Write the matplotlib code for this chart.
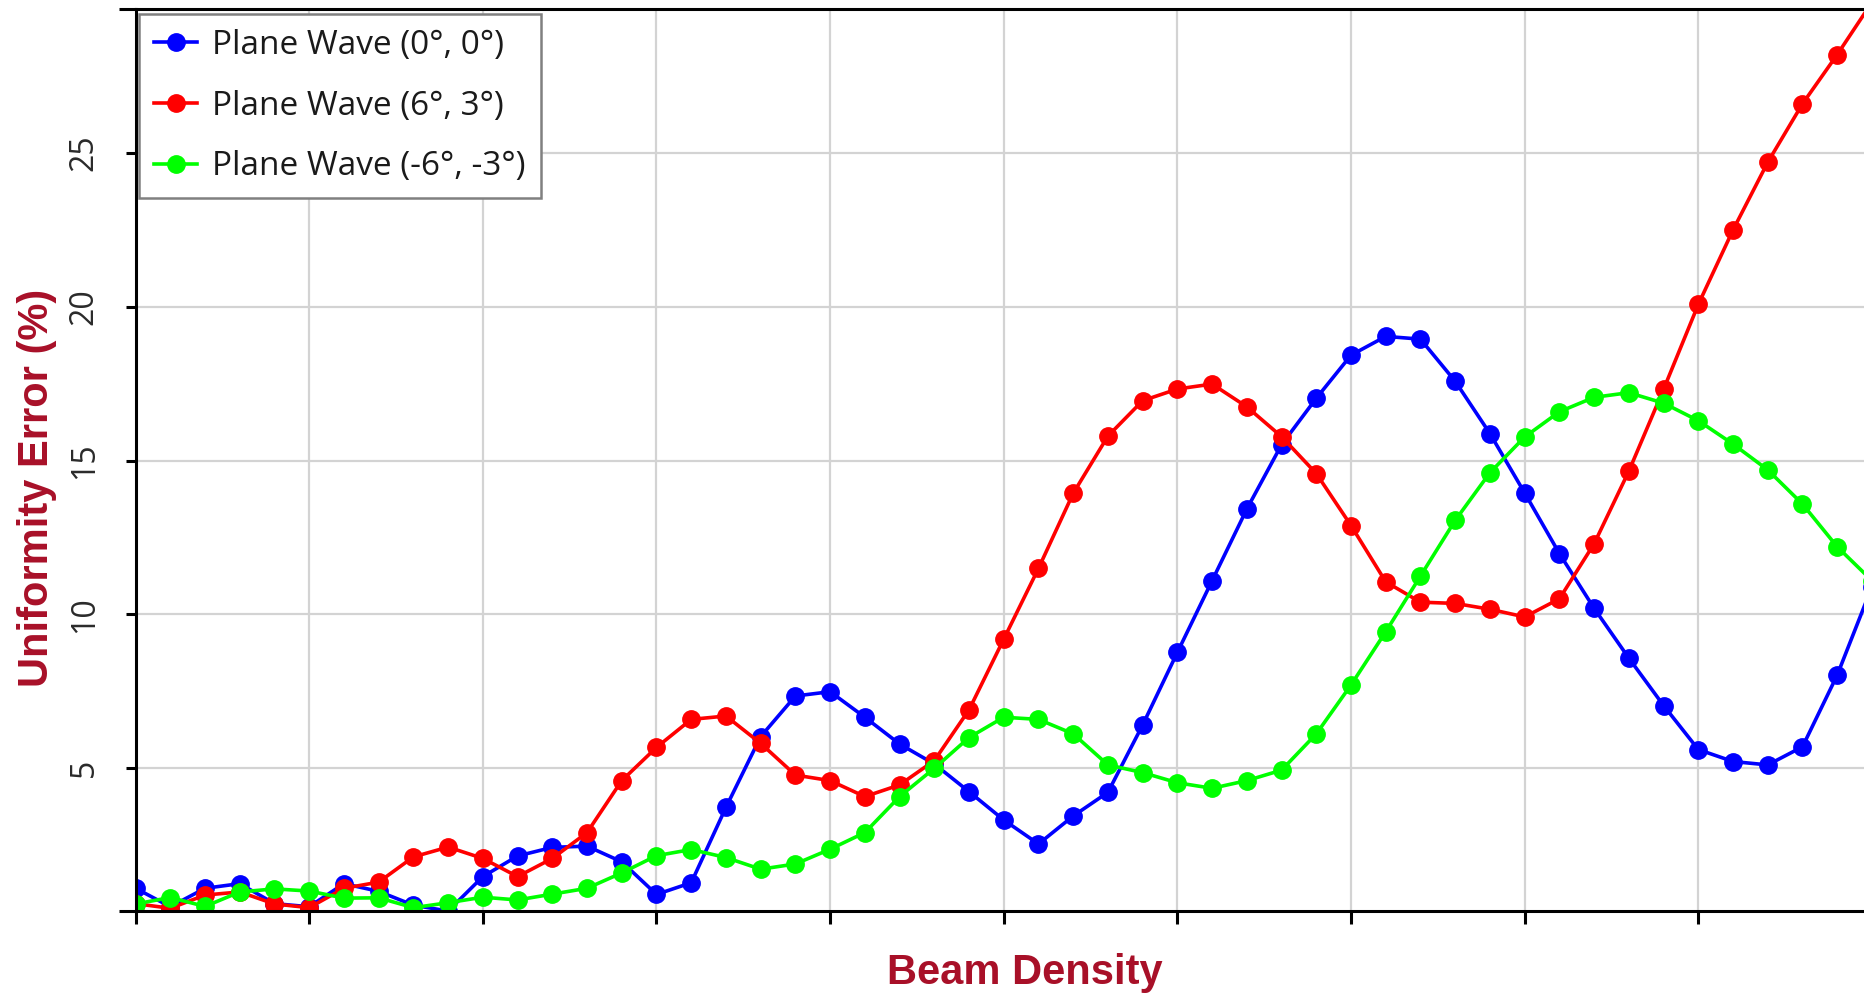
import matplotlib.pyplot as plt
import numpy as np

# beam density index (0..50), three plane wave incidences
beam_density = np.arange(51)

pw_0_0 = [1.1, 0.5, 1.1, 1.25, 0.6, 0.5, 1.25, 1.0, 0.55, 0.36,
          1.48, 2.15, 2.43, 2.47, 1.96, 0.9, 1.28, 3.73, 6.03, 7.35,
          7.49, 6.66, 5.79, 5.14, 4.24, 3.32, 2.54, 3.45, 4.22, 6.41,
          8.77, 11.1, 13.43, 15.52, 17.03, 18.43, 19.04, 18.95, 17.58, 15.88,
          13.95, 11.98, 10.2, 8.58, 7.04, 5.61, 5.22, 5.11, 5.7, 8.03,
          10.9]
pw_6_3 = [0.6, 0.45, 0.88, 0.98, 0.59, 0.47, 1.1, 1.3, 2.12, 2.44,
          2.07, 1.48, 2.07, 2.91, 4.6, 5.68, 6.59, 6.7, 5.81, 4.78,
          4.6, 4.08, 4.46, 5.25, 6.9, 9.2, 11.5, 13.94, 15.8, 16.95,
          17.33, 17.49, 16.75, 15.78, 14.58, 12.89, 11.06, 10.4, 10.36, 10.17,
          9.92, 10.51, 12.3, 14.66, 17.32, 20.08, 22.5, 24.7, 26.6, 28.2,
          29.9]
pw_m6_m3 = [0.59, 0.8, 0.51, 0.98, 1.08, 1.01, 0.78, 0.79, 0.47, 0.63,
            0.81, 0.72, 0.91, 1.1, 1.6, 2.16, 2.36, 2.1, 1.72, 1.89,
            2.37, 2.91, 4.08, 5.0, 6.0, 6.66, 6.59, 6.12, 5.11, 4.86,
            4.53, 4.35, 4.6, 4.94, 6.12, 7.71, 9.44, 11.25, 13.06, 14.61,
            15.77, 16.59, 17.06, 17.21, 16.87, 16.3, 15.54, 14.7, 13.59, 12.2,
            11.1]

labels = ['Plane Wave (0°, 0°)', 'Plane Wave (6°, 3°)', 'Plane Wave (-6°, -3°)']
colors = ['#0000FF', '#FF0000', '#00FF00']
y_ticks = [5, 10, 15, 20, 25]
x_ticks = [0, 5, 10, 15, 20, 25, 30, 35, 40, 45]
y_min, y_max = 0.36, 29.68
x_max = 49.8

label_color = '#A81028'

fig = plt.figure(figsize=(18.65, 9.96), dpi=100)
ax = fig.add_axes([0.0727, 0.0853, 0.9273, 0.9056])

for series, lab, col in zip([pw_0_0, pw_6_3, pw_m6_m3], labels, colors):
    ax.plot(beam_density, series, color=col, lw=2.6, marker='o',
            markersize=12.5, label=lab)

ax.set_xlim(0, x_max)
ax.set_ylim(y_min, y_max)
ax.set_xticks(x_ticks)
ax.set_xticklabels([])
ax.set_yticks(y_ticks)
ax.set_yticklabels([str(t) for t in y_ticks], rotation=90, va='center',
                   family='Open Sans', fontsize=23, color='#2a2a2a')

# small end ticks at the axis corners
ax.set_yticks([y_min, y_max], minor=True)
ax.set_xticks([0], minor=True)
ax.tick_params(axis='y', which='major', direction='out', length=7, width=2.2, pad=18)
ax.tick_params(axis='x', which='major', direction='out', length=9, width=2.2)
ax.tick_params(axis='y', which='minor', direction='out', length=12, width=2.2)
ax.tick_params(axis='x', which='minor', direction='out', length=18, width=2.2)

ax.grid(True, which='major', color='#D3D3D3', lw=1.6)
ax.set_axisbelow(True)

for side in ['left', 'bottom', 'top']:
    ax.spines[side].set_linewidth(2.2)
    ax.spines[side].set_color('black')
ax.spines['right'].set_visible(False)

ax.set_ylabel('Uniformity Error (%)', family='Liberation Sans', fontweight='bold',
              fontsize=30, color=label_color, va='center')
ax.yaxis.set_label_coords(-0.057, 0.469)
ax.set_xlabel('Beam Density', family='Liberation Sans', fontweight='bold',
              fontsize=30, color=label_color, va='center')
ax.xaxis.set_label_coords(0.514, -0.069)

leg = ax.legend(loc='upper left', bbox_to_anchor=(139 / 1865, 1 - 14 / 996),
                bbox_transform=fig.transFigure, borderaxespad=0,
                prop={'family': 'Open Sans', 'size': 24}, handlelength=1.3,
                labelspacing=0.83, handletextpad=0.45, borderpad=0.45,
                fancybox=False, framealpha=1)
leg.get_frame().set_edgecolor('#808080')
leg.get_frame().set_linewidth(1.8)
for txt in leg.get_texts():
    txt.set_color('#1a1a1a')

plt.savefig('out.png', dpi=100)
